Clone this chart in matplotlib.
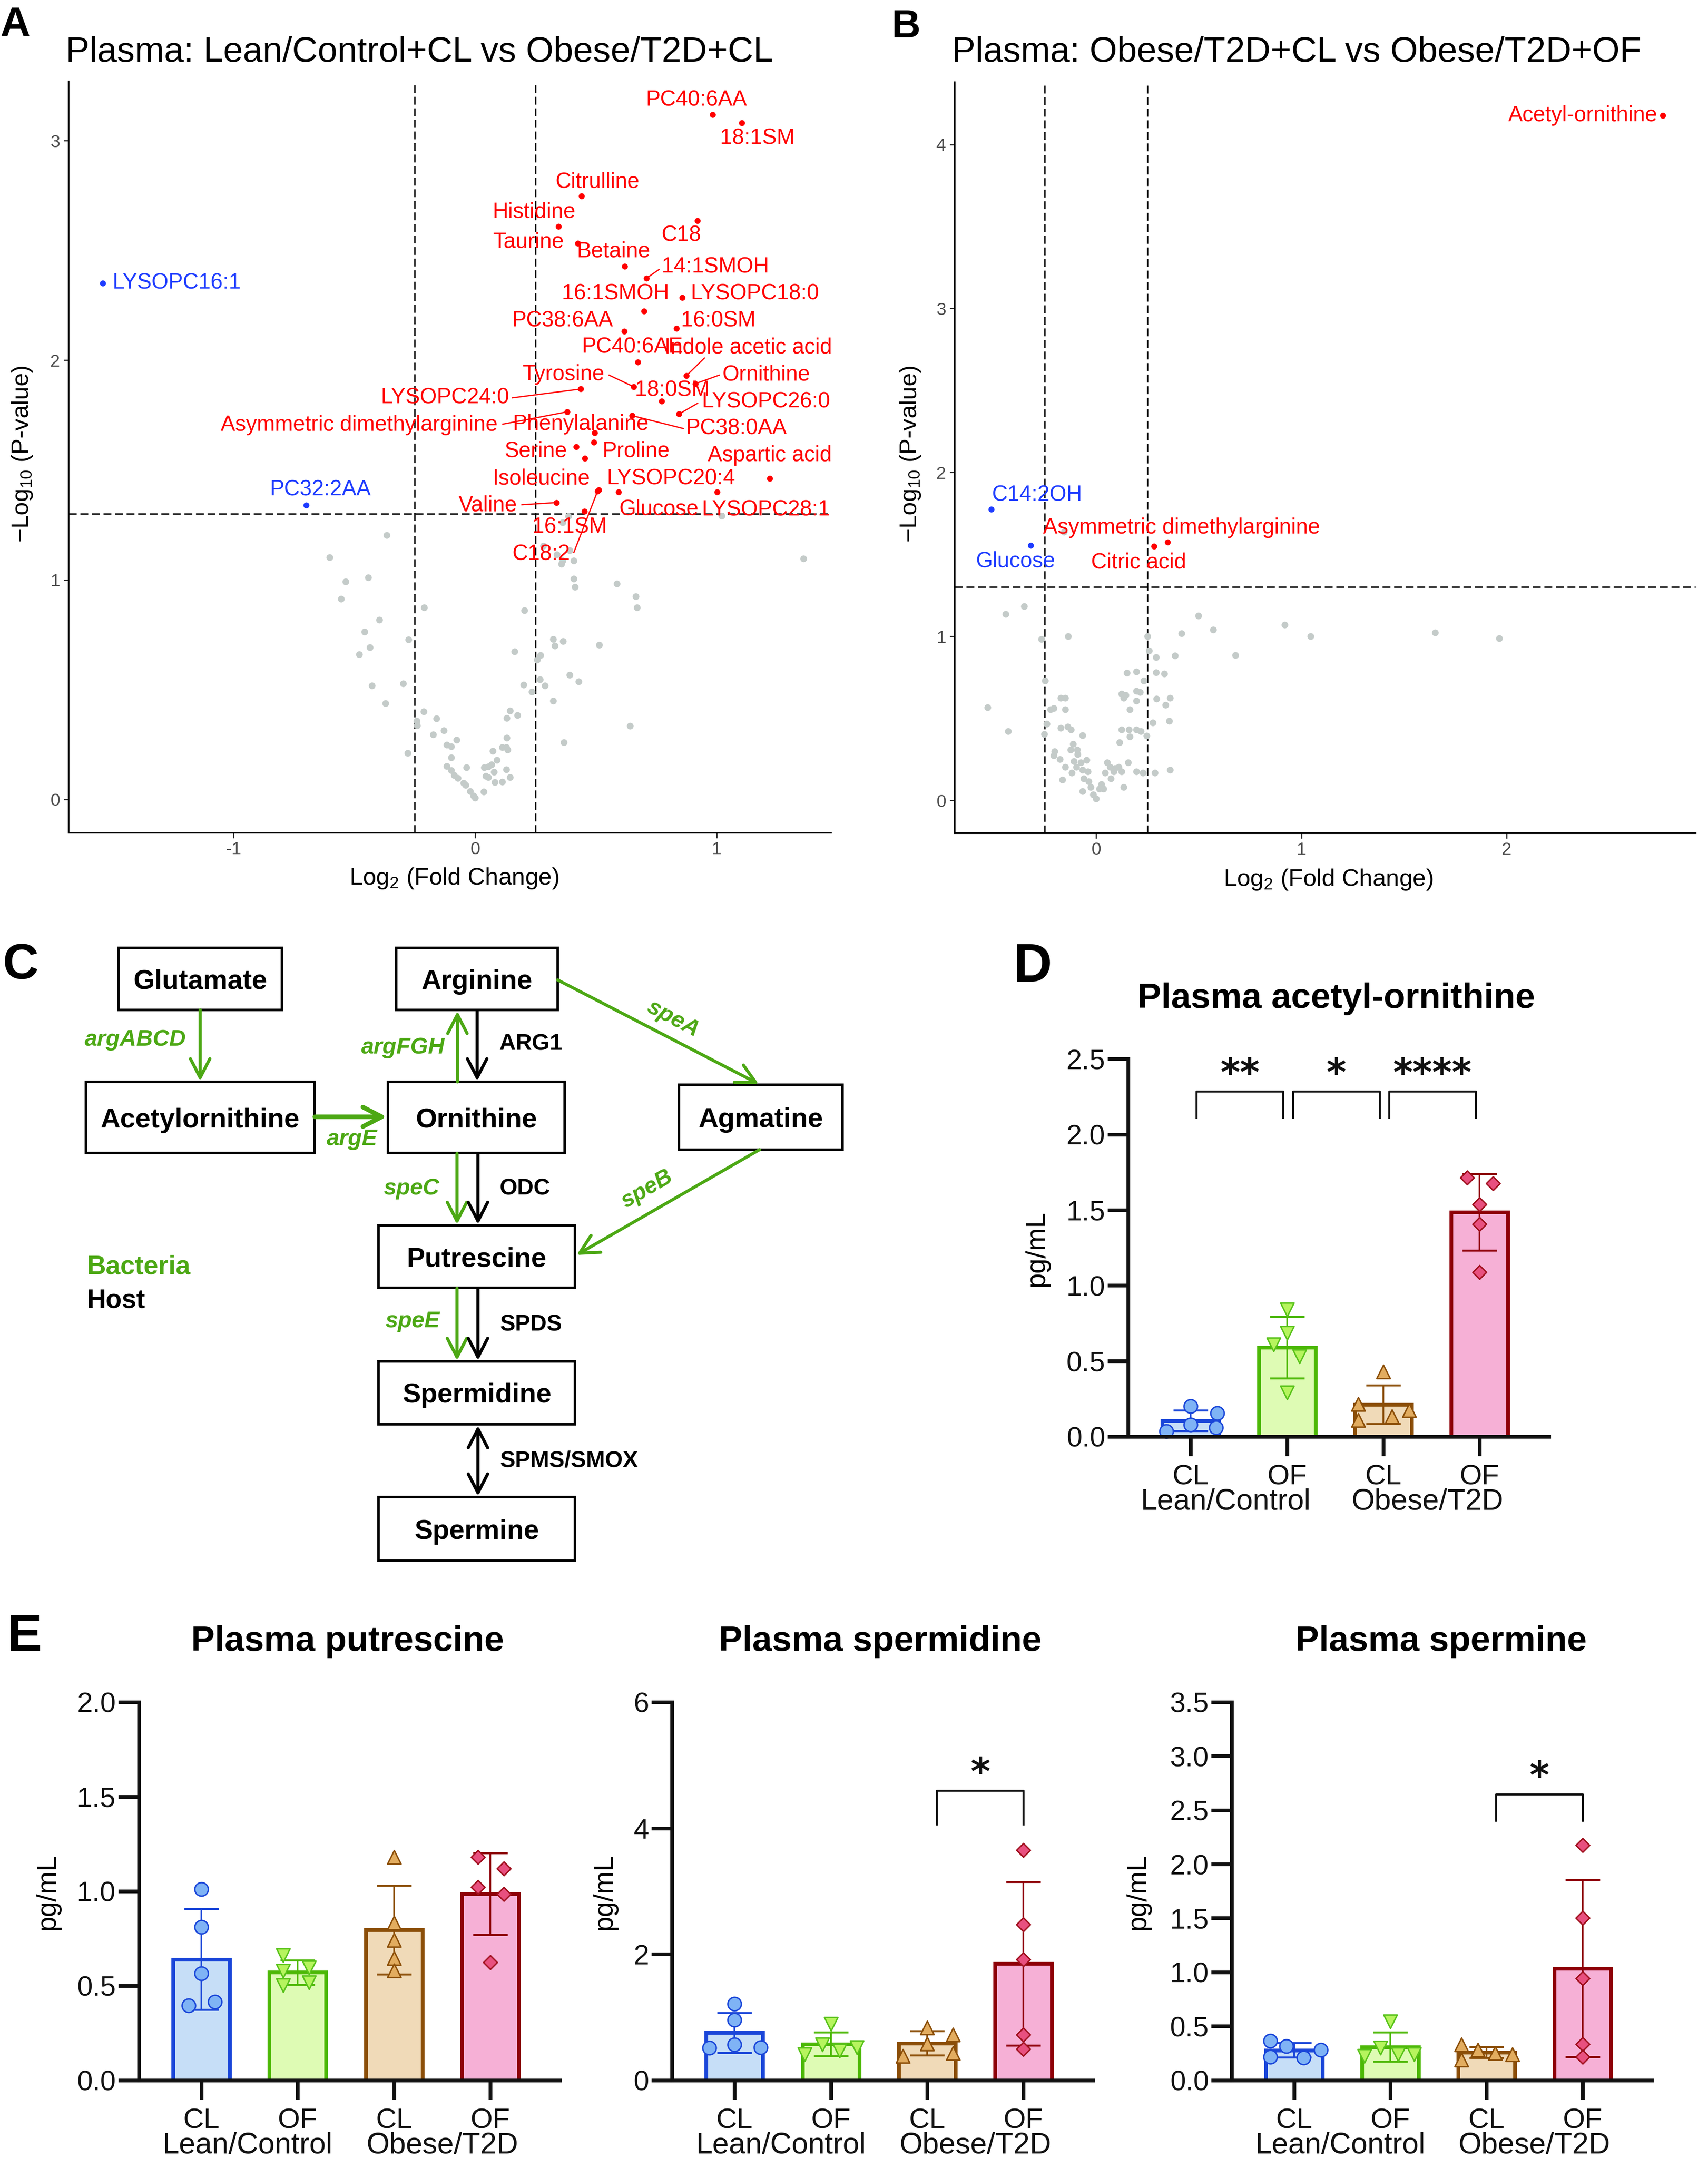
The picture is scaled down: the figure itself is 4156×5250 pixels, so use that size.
import numpy as np
import matplotlib.pyplot as plt
from matplotlib.patches import Rectangle

plt.rcParams['font.family'] = ['Liberation Sans', 'DejaVu Sans']
plt.rcParams['mathtext.fontset'] = 'custom'
plt.rcParams['mathtext.rm'] = 'Liberation Sans'
plt.rcParams['mathtext.it'] = 'Liberation Sans:italic'
plt.rcParams['mathtext.bf'] = 'Liberation Sans:bold'

# ---------------- data: volcano A (Lean/Control+CL vs Obese/T2D+CL) ----------------
a_up_names = ["PC40:6AA", "18:1SM", "Citrulline", "C18", "Histidine", "Taurine", "Betaine",
              "14:1SMOH", "LYSOPC18:0", "16:1SMOH", "16:0SM", "PC38:6AA", "PC40:6AE",
              "Indole acetic acid", "Ornithine", "Tyrosine", "LYSOPC24:0", "18:0SM",
              "LYSOPC26:0", "Asymmetric dimethylarginine", "PC38:0AA", "Phenylalanine",
              "Proline", "Serine", "Isoleucine", "Aspartic acid", "C18:2", "LYSOPC20:4",
              "Glucose", "LYSOPC28:1", "Valine", "16:1SM"]
a_up_fc = [0.984, 1.104, 0.441, 0.920, 0.346, 0.426, 0.619,
           0.710, 0.858, 0.699, 0.833, 0.618, 0.673,
           0.874, 0.911, 0.657, 0.437, 0.772,
           0.844, 0.381, 0.649, 0.495,
           0.491, 0.418, 0.454, 1.220, 0.507, 0.512,
           0.593, 1.002, 0.337, 0.452]
a_up_p = [3.118, 3.080, 2.747, 2.636, 2.610, 2.532, 2.428,
          2.374, 2.285, 2.224, 2.144, 2.132, 1.991,
          1.929, 1.893, 1.879, 1.869, 1.813,
          1.755, 1.765, 1.748, 1.670,
          1.626, 1.605, 1.554, 1.462, 1.404, 1.410,
          1.399, 1.399, 1.352, 1.311]
a_dn_names = ["LYSOPC16:1", "PC32:2AA"]
a_dn_fc = [-1.540, -0.699]
a_dn_p = [2.351, 1.340]
a_ns = np.array([
    [-0.365, 1.204], [-0.602, 1.103], [-0.536, 0.991], [-0.442, 1.010], [-0.554, 0.913],
    [-0.397, 0.818], [-0.210, 0.873], [-0.458, 0.763], [-0.276, 0.727], [-0.436, 0.693],
    [-0.479, 0.660], [-0.426, 0.519], [-0.297, 0.528], [-0.371, 0.437], [-0.213, 0.401],
    [-0.242, 0.358], [-0.240, 0.337], [-0.160, 0.369], [-0.130, 0.314], [-0.174, 0.296],
    [-0.076, 0.272], [-0.117, 0.249], [-0.099, 0.241], [-0.099, 0.190], [-0.279, 0.212],
    [-0.117, 0.151], [-0.099, 0.133], [-0.087, 0.110], [-0.071, 0.097], [-0.035, 0.145],
    [-0.048, 0.075], [-0.039, 0.066], [-0.021, 0.038], [0.000, 0.008], [-0.007, 0.016],
    [0.036, 0.035], [0.038, 0.146], [0.054, 0.149], [0.068, 0.159], [0.074, 0.221],
    [0.090, 0.180], [0.054, 0.101], [0.045, 0.106], [0.079, 0.125], [0.081, 0.078],
    [0.113, 0.081], [0.113, 0.237], [0.129, 0.237], [0.129, 0.137], [0.145, 0.101],
    [0.131, 0.280], [0.131, 0.370], [0.145, 0.404], [0.175, 0.384], [0.134, 0.226],
    [0.234, 0.490], [0.200, 0.521], [0.268, 0.547], [0.289, 0.519], [0.323, 0.448],
    [0.428, 0.536], [0.391, 0.567], [0.257, 0.636], [0.270, 0.656], [0.163, 0.674],
    [0.204, 0.860], [0.323, 0.730], [0.330, 0.700], [0.364, 0.721], [0.514, 0.703],
    [0.642, 0.334], [0.368, 0.260], [0.414, 0.967], [0.409, 1.004], [0.587, 0.982],
    [0.665, 0.925], [0.671, 0.873], [0.357, 1.072], [0.362, 1.088], [0.409, 1.088],
    [0.282, 1.154], [0.339, 1.115], [0.391, 1.134], [0.386, 1.290], [0.362, 1.261],
    [1.359, 1.097], [1.020, 1.292]])

# ---------------- data: volcano B (Obese/T2D+CL vs Obese/T2D+OF) ----------------
b_up_names = ["Acetyl-ornithine", "Asymmetric dimethylarginine", "Citric acid"]
b_up_fc = [2.760, 0.348, 0.282]
b_up_p = [4.176, 1.575, 1.550]
b_dn_names = ["C14:2OH", "Glucose"]
b_dn_fc = [-0.510, -0.318]
b_dn_p = [1.775, 1.554]
b_ns = np.array([
    [-0.440, 1.135], [-0.351, 1.185], [-0.528, 0.566], [-0.428, 0.422], [-0.266, 0.984],
    [-0.136, 1.002], [-0.156, 1.638], [-0.248, 0.731], [-0.241, 0.467], [-0.253, 0.404],
    [-0.172, 0.626], [-0.151, 0.626], [-0.223, 0.555], [-0.207, 0.562], [-0.151, 0.555],
    [-0.172, 0.443], [-0.138, 0.450], [-0.123, 0.432], [-0.067, 0.397], [-0.202, 0.299],
    [-0.207, 0.274], [-0.177, 0.250], [-0.151, 0.204], [-0.164, 0.127], [-0.125, 0.309],
    [-0.113, 0.344], [-0.092, 0.309], [-0.090, 0.281], [-0.108, 0.239], [-0.118, 0.169],
    [-0.097, 0.204], [-0.074, 0.232], [-0.067, 0.186], [-0.046, 0.246], [-0.041, 0.176],
    [-0.061, 0.134], [-0.067, 0.056], [-0.036, 0.116], [-0.026, 0.081], [-0.015, 0.035],
    [0.000, 0.011], [0.015, 0.070], [0.026, 0.098], [0.036, 0.070], [0.044, 0.169],
    [0.054, 0.232], [0.067, 0.204], [0.085, 0.176], [0.072, 0.134], [0.092, 0.197],
    [0.110, 0.204], [0.123, 0.176], [0.133, 0.081], [0.156, 0.232], [0.195, 0.176],
    [0.228, 0.169], [0.287, 0.169], [0.361, 0.186], [0.113, 0.355], [0.123, 0.432],
    [0.159, 0.432], [0.164, 0.390], [0.195, 0.432], [0.218, 0.422], [0.246, 0.394],
    [0.277, 0.475], [0.356, 0.485], [0.164, 0.555], [0.123, 0.650], [0.133, 0.626],
    [0.144, 0.643], [0.195, 0.608], [0.195, 0.668], [0.215, 0.661], [0.149, 0.777],
    [0.195, 0.784], [0.233, 0.731], [0.292, 0.780], [0.333, 0.773], [0.295, 0.619],
    [0.338, 0.583], [0.361, 0.626], [0.259, 0.914], [0.292, 0.872], [0.384, 0.882],
    [0.251, 1.002], [0.417, 1.019], [0.499, 1.125], [0.571, 1.040], [0.679, 0.886],
    [0.919, 1.072], [1.045, 1.002], [1.652, 1.023], [1.964, 0.988]])

# ---------------- data: bar charts (pg/mL, 5 animals per group) ----------------
groups = ["CL", "OF", "CL", "OF"]
cohorts = ["Lean/Control", "Obese/T2D"]
acetylornithine = [[0.200, 0.156, 0.080, 0.060, 0.035],
                   [0.840, 0.685, 0.610, 0.530, 0.290],
                   [0.430, 0.215, 0.175, 0.134, 0.108],
                   [1.715, 1.675, 1.538, 1.406, 1.089]]
putrescine = [[1.011, 0.811, 0.564, 0.414, 0.395],
              [0.660, 0.577, 0.596, 0.502, 0.517],
              [1.180, 0.833, 0.740, 0.646, 0.580],
              [1.180, 1.120, 1.021, 0.985, 0.624]]
spermidine = [[1.213, 0.955, 0.562, 0.511, 0.522],
              [0.888, 0.567, 0.466, 0.522, 0.410],
              [0.831, 0.719, 0.579, 0.427, 0.382],
              [3.650, 2.470, 1.916, 0.719, 0.494]]
spermine = [[0.364, 0.315, 0.282, 0.216, 0.206],
            [0.544, 0.298, 0.223, 0.239, 0.239],
            [0.328, 0.279, 0.249, 0.239, 0.190],
            [2.176, 1.501, 0.944, 0.334, 0.216]]
acetylornithine_sig = [(0, 1, "**"), (1, 2, "*"), (2, 3, "****")]
spermidine_sig = [(2, 3, "*")]
spermine_sig = [(2, 3, "*")]

# ---------------- layout / styling ----------------
W, H = 4156, 5250
fig = plt.figure(figsize=(W / 100, H / 100), dpi=100)


def axes_px(x0, y0, x1, y1):
    return fig.add_axes([x0 / W, 1 - y1 / H, (x1 - x0) / W, (y1 - y0) / H])


def ftext(x, y, s, **kw):
    return fig.text(x / W, 1 - y / H, s, **kw)


RED, BLUE, GREY = '#FF0000', '#1E3CFF', '#C4CBC9'

# label placement for the volcano plots (text centre, optional leader start)
a_label_pos = {
    "PC40:6AA": (0.916, 3.184), "18:1SM": (1.168, 3.010), "Citrulline": (0.506, 2.813),
    "Histidine": (0.244, 2.676), "Taurine": (0.221, 2.539), "Betaine": (0.574, 2.495),
    "C18": (0.854, 2.569), "14:1SMOH": (0.995, 2.425), "16:1SMOH": (0.581, 2.303),
    "LYSOPC18:0": (1.159, 2.303), "PC38:6AA": (0.362, 2.180), "16:0SM": (1.007, 2.180),
    "PC40:6AE": (0.652, 2.060), "Indole acetic acid": (1.130, 2.057), "Tyrosine": (0.366, 1.935),
    "Ornithine": (1.205, 1.935), "18:0SM": (0.816, 1.863), "LYSOPC24:0": (-0.125, 1.830),
    "LYSOPC26:0": (1.205, 1.810), "Asymmetric dimethylarginine": (-0.480, 1.705),
    "Phenylalanine": (0.437, 1.708), "PC38:0AA": (1.082, 1.689), "Serine": (0.251, 1.586),
    "Proline": (0.667, 1.586), "Aspartic acid": (1.220, 1.567), "Isoleucine": (0.273, 1.460),
    "LYSOPC20:4": (0.811, 1.460), "Valine": (0.053, 1.339), "Glucose": (0.760, 1.323),
    "LYSOPC28:1": (1.205, 1.318), "16:1SM": (0.391, 1.239), "C18:2": (0.273, 1.117),
    "LYSOPC16:1": (-1.235, 2.351), "PC32:2AA": (-0.640, 1.410),
}
a_leaders = {
    "14:1SMOH": (0.761, 2.413), "Indole acetic acid": (0.949, 2.010), "Tyrosine": (0.555, 1.932),
    "Ornithine": (1.010, 1.932), "LYSOPC24:0": (0.155, 1.829), "LYSOPC26:0": (0.921, 1.804),
    "Asymmetric dimethylarginine": (0.115, 1.709), "PC38:0AA": (0.862, 1.689),
    "Valine": (0.194, 1.342), "C18:2": (0.409, 1.125),
}
b_label_pos = {
    "Acetyl-ornithine": (2.371, 4.176), "C14:2OH": (-0.287, 1.863),
    "Asymmetric dimethylarginine": (0.417, 1.663), "Glucose": (-0.392, 1.459),
    "Citric acid": (0.207, 1.452),
}


def volcano(ax, ns, up, dn, label_pos, leaders, xlim, ylim, xticks, yticks):
    ax.scatter(ns[:, 0], ns[:, 1], s=140, color=GREY, lw=0, zorder=2)
    for x in (-0.25, 0.25):
        ax.axvline(x, color='black', lw=2.5, ls=(0, (5.5, 2.6)), zorder=1)
    ax.axhline(-np.log10(0.05), color='black', lw=2.5, ls=(0, (5.5, 2.6)), zorder=1)
    for (names, fcs, ps), col in ((up, RED), (dn, BLUE)):
        ax.scatter(fcs, ps, s=110, color=col, lw=0, zorder=3)
        for n, fx, py in zip(names, fcs, ps):
            tx, ty = label_pos[n]
            if n in leaders:
                lx, ly = leaders[n]
                ax.plot([lx, fx], [ly, py], color=col, lw=2.2, zorder=3)
            ax.text(tx, ty, n, color=col, fontsize=38, ha='center', va='center', zorder=4)
    ax.set_xlim(*xlim)
    ax.set_ylim(*ylim)
    ax.set_xticks(xticks)
    ax.set_xticklabels([str(t) for t in xticks])
    ax.set_yticks(yticks)
    for s in ('top', 'right'):
        ax.spines[s].set_visible(False)
    for s in ('left', 'bottom'):
        ax.spines[s].set_linewidth(2.8)
    ax.tick_params(labelsize=31, labelcolor='#4D4D4D', length=9, width=2.2, color='#333333', pad=6)


# ---------- Panel A ----------
axA = axes_px(167, 198, 2022, 2026)
volcano(axA, a_ns, (a_up_names, a_up_fc, a_up_p), (a_dn_names, a_dn_fc, a_dn_p),
        a_label_pos, a_leaders, (-1.682, 1.473), (-0.152, 3.27), [-1, 0, 1], [0, 1, 2, 3])
ftext(0, 89, "A", fontsize=73, fontweight='bold', va='baseline')
ftext(160, 150, "Plasma: Lean/Control+CL vs Obese/T2D+CL", fontsize=62, va='baseline')
ftext(1105, 2137, "Log$_2$ (Fold Change)", fontsize=42, ha='center', va='center')
ftext(54, 1105, "\u2212Log$_{10}$ (P-value)", fontsize=42, ha='center', va='center', rotation=90)

# ---------- Panel B ----------
axB = axes_px(2323, 200, 4126, 2027)
volcano(axB, b_ns, (b_up_names, b_up_fc, b_up_p), (b_dn_names, b_dn_fc, b_dn_p),
        b_label_pos, {}, (-0.689, 2.921), (-0.2, 4.38), [0, 1, 2], [0, 1, 2, 3, 4])
ftext(2169, 91, "B", fontsize=70, fontweight='bold', va='baseline')
ftext(2316, 150, "Plasma: Obese/T2D+CL vs Obese/T2D+OF", fontsize=62, va='baseline')
ftext(3232, 2140, "Log$_2$ (Fold Change)", fontsize=42, ha='center', va='center')
ftext(2215, 1105, "\u2212Log$_{10}$ (P-value)", fontsize=42, ha='center', va='center', rotation=90)

# ---------- Panel C: pathway diagram (pixel coordinates) ----------
GREEN = '#4CA814'
axC = axes_px(0, 2200, 2150, 3900)
axC.set_xlim(0, 2150)
axC.set_ylim(3900, 2200)
axC.axis('off')
boxes = {
    "Glutamate": (288, 2306, 686, 2457), "Arginine": (964, 2306, 1357, 2457),
    "Acetylornithine": (209, 2632, 765, 2805), "Ornithine": (944, 2632, 1374, 2805),
    "Agmatine": (1652, 2639, 2050, 2797), "Putrescine": (921, 2981, 1399, 3133),
    "Spermidine": (921, 3312, 1399, 3465), "Spermine": (921, 3642, 1399, 3797),
}
for name, (x0, y0, x1, y1) in boxes.items():
    axC.add_patch(Rectangle((x0, y0), x1 - x0, y1 - y0, fill=False, lw=4.5, ec='black'))
    axC.text((x0 + x1) / 2, (y0 + y1) / 2 + 24, name, ha='center', va='baseline',
             fontsize=48, fontweight='bold')


def arrow(x0, y0, x1, y1, color, lw=5.5, style='->'):
    axC.annotate('', xy=(x1, y1), xytext=(x0, y0),
                 arrowprops=dict(arrowstyle=f'{style},head_length=0.33,head_width=0.17',
                                 color=color, lw=lw, shrinkA=0, shrinkB=0, mutation_scale=100))


arrow(487, 2457, 487, 2630, GREEN)
arrow(766, 2717, 941, 2717, GREEN, lw=8)
arrow(1113, 2632, 1113, 2460, GREEN)
arrow(1161, 2459, 1161, 2630, 'black')
arrow(1357, 2384, 1846, 2637, GREEN)
arrow(1848, 2797, 1403, 3053, GREEN)
arrow(1112, 2806, 1112, 2979, GREEN)
arrow(1163, 2806, 1163, 2979, 'black')
arrow(1112, 3134, 1112, 3310, GREEN)
arrow(1163, 3134, 1163, 3310, 'black')
arrow(1163, 3468, 1163, 3640, 'black', style='<->')

gene_kw = dict(color=GREEN, fontsize=40, fontweight='bold', style='italic', va='center')
enz_kw = dict(color='black', fontsize=40, fontweight='bold', va='center', ha='left')
axC.text(329, 2530, "argABCD", ha='center', **gene_kw)
axC.text(980, 2549, "argFGH", ha='center', **gene_kw)
axC.text(856, 2772, "argE", ha='center', **gene_kw)
axC.text(1638, 2479, "speA", ha='center', rotation=-28, **gene_kw)
axC.text(1574, 2894, "speB", ha='center', rotation=30, **gene_kw)
axC.text(1001, 2892, "speC", ha='center', **gene_kw)
axC.text(1004, 3215, "speE", ha='center', **gene_kw)
axC.text(1215, 2540, "ARG1", **enz_kw)
axC.text(1216, 2892, "ODC", **enz_kw)
axC.text(1216, 3223, "SPDS", **enz_kw)
axC.text(1216, 3554, "SPMS/SMOX", **enz_kw)
axC.text(212, 3082, "Bacteria", color=GREEN, fontsize=46, fontweight='bold', va='center')
axC.text(212, 3164, "Host", color='black', fontsize=46, fontweight='bold', va='center')
ftext(7, 2381, "C", fontsize=87, fontweight='bold', va='baseline')

# ---------- Panels D and E: bar charts ----------
bar_fill = ['#C6DEF7', '#DEFBB4', '#F0DAB8', '#F6B0D6']
bar_edge = ['#1A46D9', '#4CB806', '#8B4E08', '#8E0008']
pt_fill = ['#7FB3F5', '#B6F45E', '#E2AC5F', '#E8507F']
pt_edge = ['#1A46D9', '#58C21A', '#8B4E08', '#A0101E']
pt_marker = ['o', 'v', '^', 'D']
pt_size = [560, 560, 560, 290]
INK = '#111111'


def bar_panel(box, values, ymax, yticks, fmt, sig, bracket, inset, jitter, cohort_x):
    ax = axes_px(*box)
    for i, vals in enumerate(values):
        v = np.array(vals)
        m, sd = v.mean(), v.std(ddof=1)
        ax.bar(i, m, width=0.59, color=bar_fill[i], edgecolor=bar_edge[i], linewidth=6.5, zorder=2)
        ax.errorbar(i, m, yerr=sd, fmt='none', ecolor=bar_edge[i], elinewidth=3,
                    capsize=30, capthick=3.5, zorder=3)
        ax.scatter(i + np.array(jitter[i]), v, marker=pt_marker[i], s=pt_size[i],
                   facecolor=pt_fill[i], edgecolor=pt_edge[i], linewidth=2.5, zorder=4, clip_on=False)
    top, leg = bracket
    for a, b, stars in sig:
        x1, x2 = a + inset[0], b + inset[1]
        ax.plot([x1, x1, x2, x2], [leg, top, top, leg], color=INK, lw=3.5, clip_on=False, zorder=5)
        ax.annotate(stars, xy=((x1 + x2) / 2, top), xytext=(0, 10), textcoords='offset points',
                    ha='center', va='baseline', fontsize=66, fontweight='bold',
                    family='DejaVu Sans', color=INK, annotation_clip=False)
    ax.set_xlim(-0.65, 3.72)
    ax.set_ylim(0, ymax)
    ax.set_yticks(yticks)
    ax.set_yticklabels([fmt.format(t) for t in yticks])
    ax.set_xticks(range(4))
    ax.set_xticklabels(groups)
    for s in ('top', 'right'):
        ax.spines[s].set_visible(False)
    for s in ('left', 'bottom'):
        ax.spines[s].set_linewidth(6.5)
        ax.spines[s].set_color(INK)
        ax.spines[s].set_zorder(6)
    ax.tick_params(axis='y', length=36, width=6.5, labelsize=49, pad=4, color=INK, labelcolor=INK)
    ax.tick_params(axis='x', length=34, width=6.5, labelsize=50, pad=14, color=INK, labelcolor=INK)
    for xc, label in zip(cohort_x, cohorts):
        ax.annotate(label, xy=(xc, 0), xytext=(0, -115), textcoords='offset points',
                    ha='center', va='center', fontsize=52, color=INK, annotation_clip=False)
    return ax


# D
bar_panel((2745, 2576, 3769, 3495), acetylornithine, 2.5, [0, 0.5, 1.0, 1.5, 2.0, 2.5], "{:.1f}",
          acetylornithine_sig, (2.285, 2.11), (0.06, -0.04),
          [[0, 0.275, 0, 0.265, -0.255], [0, 0, -0.14, 0.13, 0],
           [0, -0.26, 0.27, 0.09, -0.26], [-0.13, 0.14, 0, 0, 0]], (0.36, 2.46))
ftext(2465, 2388, "D", fontsize=94, fontweight='bold', va='baseline')
ftext(3252, 2452, "Plasma acetyl-ornithine", fontsize=62, fontweight='bold', ha='center', va='baseline')
ftext(2523, 3037, "pg/mL", fontsize=48, ha='center', va='center', rotation=90)

# E
bar_panel((337.5, 4141, 1362, 5060.6), putrescine, 2.0, [0, 0.5, 1.0, 1.5, 2.0], "{:.1f}",
          [], (0, 0), (0, 0),
          [[0, 0, 0, 0.14, -0.13], [-0.15, -0.15, 0.12, -0.15, 0.12],
           [0, 0, 0, 0, 0], [-0.13, 0.14, -0.13, 0.14, 0]], (0.48, 2.5))
bar_panel((1635, 4141, 2659, 5060.6), spermidine, 6, [0, 2, 4, 6], "{:.0f}",
          spermidine_sig, (4.6, 4.06), (0.1, 0.0),
          [[0, 0, 0, -0.26, 0.27], [0, -0.09, 0.09, 0.27, -0.27],
           [0, 0.27, 0, 0.27, -0.25], [0, 0, 0, 0, 0]], (0.48, 2.5))
bar_panel((2997, 4141, 4019, 5060.6), spermine, 3.5, [0, 0.5, 1.0, 1.5, 2.0, 2.5, 3.0, 3.5], "{:.1f}",
          spermine_sig, (2.648, 2.402), (0.1, 0.0),
          [[-0.25, -0.08, 0.28, -0.25, 0.1], [0, -0.1, -0.27, 0.08, 0.25],
           [-0.26, -0.09, 0.09, 0.27, -0.26], [0, 0, 0, 0, 0]], (0.48, 2.5))
ftext(18, 4016, "E", fontsize=91, fontweight='bold', va='baseline')
for xc, title in zip((846, 2142, 3506), ("Plasma putrescine", "Plasma spermidine", "Plasma spermine")):
    ftext(xc, 4016, title, fontsize=62, fontweight='bold', ha='center', va='baseline')
for xc in (116, 1471, 2769):
    ftext(xc, 4602, "pg/mL", fontsize=48, ha='center', va='center', rotation=90)

fig.savefig('out.png', dpi=100)
